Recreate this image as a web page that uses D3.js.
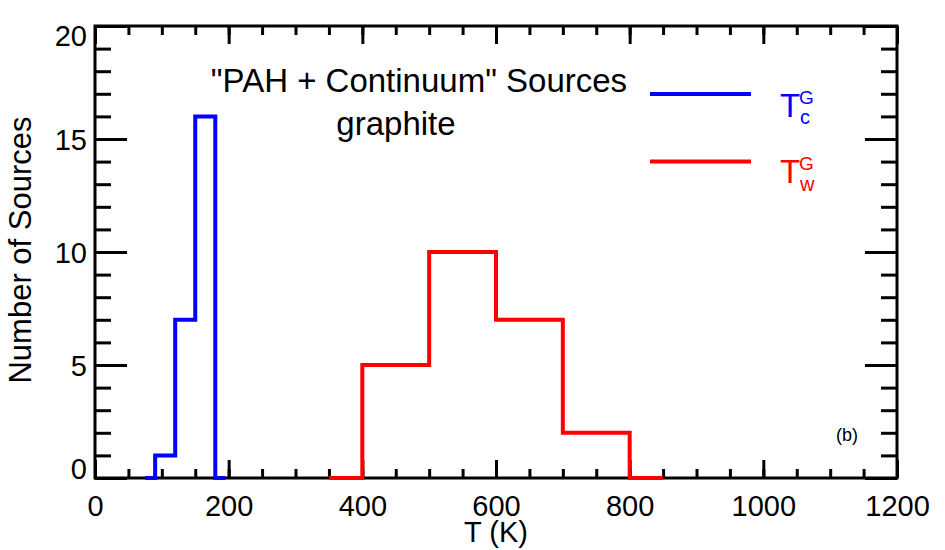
<!DOCTYPE html>
<html>
<head>
  <meta charset="UTF-8">
  <title>PAH + Continuum Sources - graphite</title>
  <style>
    body { margin: 0; background: #fff; }
    text { font-family: "Liberation Sans", Arial, Helvetica, sans-serif; }
  </style>
</head>
<body>
<svg id="chart" width="945" height="550"></svg>
<script src="https://d3js.org/d3.v7.min.js"></script>
<script>

    // bin centres and counts (histogram drawn IDL psym=10 style)
    var coldCenters = [75, 105, 135, 165, 195];
    var coldCounts  = [0, 1, 7, 16, 0];
    var warmCenters = [350, 450, 550, 650, 750, 850];
    var warmCounts  = [0, 5, 10, 7, 2, 0];

    var xTicks = [0, 200, 400, 600, 800, 1000, 1200];
    var yTicks = [0, 5, 10, 15, 20];

    var svg = d3.select("#chart");

    // plot box (note: "top" is taken by window.top)
    var pLeft = 95, pRight = 897, pTop = 26, pBottom = 478;

    var x = d3.scaleLinear().domain([0, 1200]).range([pLeft, pRight]);
    var y = d3.scaleLinear().domain([0, 20]).range([pBottom, pTop]);

    var xMinor = d3.range(0, 1201, 50);
    var yMinor = d3.range(0, 21, 1);

    function styleAxis(g) {
        g.select(".domain").remove();
        g.selectAll("line").attr("stroke", "#000").attr("stroke-width", 3);
    }

    // minor ticks
    svg.append("g").attr("transform", "translate(0," + pBottom + ")")
        .call(d3.axisBottom(x).tickValues(xMinor).tickSize(-9).tickFormat(""))
        .call(styleAxis);
    svg.append("g").attr("transform", "translate(0," + pTop + ")")
        .call(d3.axisTop(x).tickValues(xMinor).tickSize(-9).tickFormat(""))
        .call(styleAxis);
    svg.append("g").attr("transform", "translate(" + pLeft + ",0)")
        .call(d3.axisLeft(y).tickValues(yMinor).tickSize(-16).tickFormat(""))
        .call(styleAxis);
    svg.append("g").attr("transform", "translate(" + pRight + ",0)")
        .call(d3.axisRight(y).tickValues(yMinor).tickSize(-16).tickFormat(""))
        .call(styleAxis);

    // major ticks
    var xAxis = svg.append("g").attr("transform", "translate(0," + pBottom + ")")
        .call(d3.axisBottom(x).tickValues(xTicks).tickSize(-18).tickPadding(17).tickFormat(d3.format("d")))
        .call(styleAxis);
    xAxis.selectAll("text").attr("font-size", 29).attr("fill", "#000")
        .attr("font-family", "Liberation Sans, Arial, sans-serif");

    svg.append("g").attr("transform", "translate(0," + pTop + ")")
        .call(d3.axisTop(x).tickValues(xTicks).tickSize(-18).tickFormat(""))
        .call(styleAxis);

    var yAxis = svg.append("g").attr("transform", "translate(" + pLeft + ",0)")
        .call(d3.axisLeft(y).tickValues(yTicks).tickSize(-32).tickPadding(8).tickFormat(d3.format("d")))
        .call(styleAxis);
    // IDL keeps end labels inside the axis range
    yAxis.selectAll("text")
        .attr("font-size", 29).attr("fill", "#000")
        .attr("font-family", "Liberation Sans, Arial, sans-serif")
        .attr("dy", 0)
        .attr("y", function(d) {
            var ty = y(d);
            var base = Math.max(pTop + 19, Math.min(pBottom, ty + 10));
            return base - ty;
        });

    svg.append("g").attr("transform", "translate(" + pRight + ",0)")
        .call(d3.axisRight(y).tickValues(yTicks).tickSize(-32).tickFormat(""))
        .call(styleAxis);

    // frame
    svg.append("rect")
        .attr("x", pLeft).attr("y", pTop)
        .attr("width", pRight - pLeft).attr("height", pBottom - pTop)
        .attr("fill", "none").attr("stroke", "#000").attr("stroke-width", 3);

    // histograms
    var line = d3.line()
        .x(function(d) { return x(d[0]); })
        .y(function(d) { return y(d[1]); })
        .curve(d3.curveStep);

    svg.append("path")
        .datum(d3.zip(coldCenters, coldCounts))
        .attr("d", line)
        .attr("fill", "none").attr("stroke", "#0000ff").attr("stroke-width", 4);

    svg.append("path")
        .datum(d3.zip(warmCenters, warmCounts))
        .attr("d", line)
        .attr("fill", "none").attr("stroke", "#ff0000").attr("stroke-width", 4);

    // axis titles
    svg.append("text")
        .attr("x", (pLeft + pRight) / 2).attr("y", 542)
        .attr("text-anchor", "middle").attr("font-size", 29)
        .text("T (K)");

    svg.append("text")
        .attr("transform", "translate(31," + ((pTop + pBottom) / 2 - 2) + ") rotate(-90)")
        .attr("text-anchor", "middle").attr("font-size", 31)
        .text("Number of Sources");

    // title inside the plot
    svg.append("text")
        .attr("x", 419).attr("y", 92)
        .attr("text-anchor", "middle").attr("font-size", 33)
        .text("\"PAH + Continuum\" Sources");
    svg.append("text")
        .attr("x", 396).attr("y", 135)
        .attr("text-anchor", "middle").attr("font-size", 33)
        .text("graphite");

    // legend
    var legend = [
        { color: "#0000ff", sub: "c", ly: 94, base: 116.7, sup: 103.5, subBase: 124 },
        { color: "#ff0000", sub: "w", ly: 161.5, base: 183, sup: 170, subBase: 191 }
    ];
    var lg = svg.append("g").selectAll("g").data(legend).enter().append("g");
    lg.append("line")
        .attr("x1", 650).attr("x2", 751)
        .attr("y1", function(d) { return d.ly; }).attr("y2", function(d) { return d.ly; })
        .attr("stroke", function(d) { return d.color; }).attr("stroke-width", 4);
    var lt = lg.append("text").attr("fill", function(d) { return d.color; });
    lt.append("tspan")
        .attr("x", 780).attr("y", function(d) { return d.base; })
        .attr("font-size", 33).text("T");
    lt.append("tspan")
        .attr("x", 799).attr("y", function(d) { return d.sup; })
        .attr("font-size", 19).text("G");
    lt.append("tspan")
        .attr("x", 800).attr("y", function(d) { return d.subBase; })
        .attr("font-size", 20).text(function(d) { return d.sub; });

    // panel label
    svg.append("text")
        .attr("x", 847).attr("y", 441)
        .attr("text-anchor", "middle").attr("font-size", 18)
        .text("(b)");

</script>
</body>
</html>
